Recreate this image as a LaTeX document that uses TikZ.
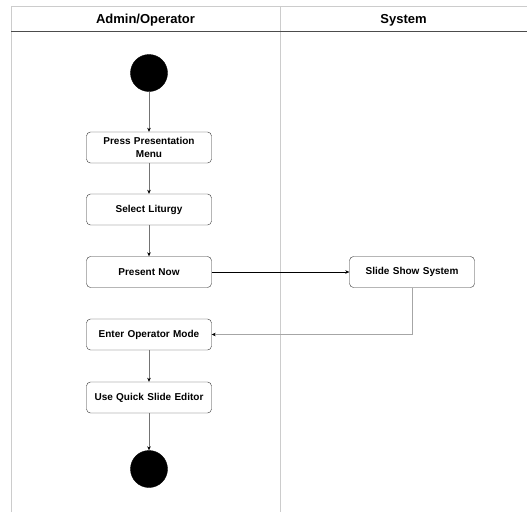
\documentclass[tikz,border=0pt]{standalone}
\usepackage{fontspec}
\setmainfont{Liberation Sans}
\usetikzlibrary{arrows.meta}
\begin{document}
\begin{tikzpicture}[x=1pt,y=-1pt,
  act/.style={draw=black!80, rounded corners=4pt, fill=white, minimum width=125pt, minimum height=31pt, align=center, font=\bfseries\fontsize{10}{12.5}\selectfont, inner sep=1pt, text width=122pt},
  dot/.style={circle, fill=black, draw=black, minimum size=37pt, inner sep=0pt},
  flow/.style={draw=black!55, -{Stealth[length=4pt,width=3.5pt,black]}},
  lane/.style={draw=black!20, line width=0.8pt},
  head/.style={font=\bfseries\fontsize{13}{15}\selectfont, anchor=base}]
\useasboundingbox (0,0) rectangle (527,512);
% swimlane frame
\draw[lane] (11,512) -- (11,6) -- (527,6);
\draw[lane] (280,6) -- (280,512);
\draw[draw=black!70] (11,31) -- (527,31);
\node[head] (h1) at (145.5,23) {Admin/Operator};
\node[head] (h2) at (403.5,23) {System};
% nodes
\node[dot] (start) at (149,73) {};
\node[act] (n1) at (149,147.5) {Press Presentation\\Menu};
\node[act] (n2) at (149,209.5) {Select Liturgy};
\node[act] (n3) at (149,272) {Present Now};
\node[act] (n4) at (412,272) {Slide Show System};
\node[act] (n5) at (149,334.5) {Enter Operator Mode};
\node[act] (n6) at (149,397.5) {Use Quick Slide Editor};
\node[dot] (end) at (149,469) {};
% connectors
\draw[flow] (start) -- (n1);
\draw[flow] (n1) -- (n2);
\draw[flow] (n2) -- (n3);
\draw[flow, draw=black] (n3) -- (n4);
\draw[flow, draw=black!35] (n4.south) |- (n5.east);
\draw[flow] (n5) -- (n6);
\draw[flow] (n6) -- (end);
\end{tikzpicture}
\end{document}
